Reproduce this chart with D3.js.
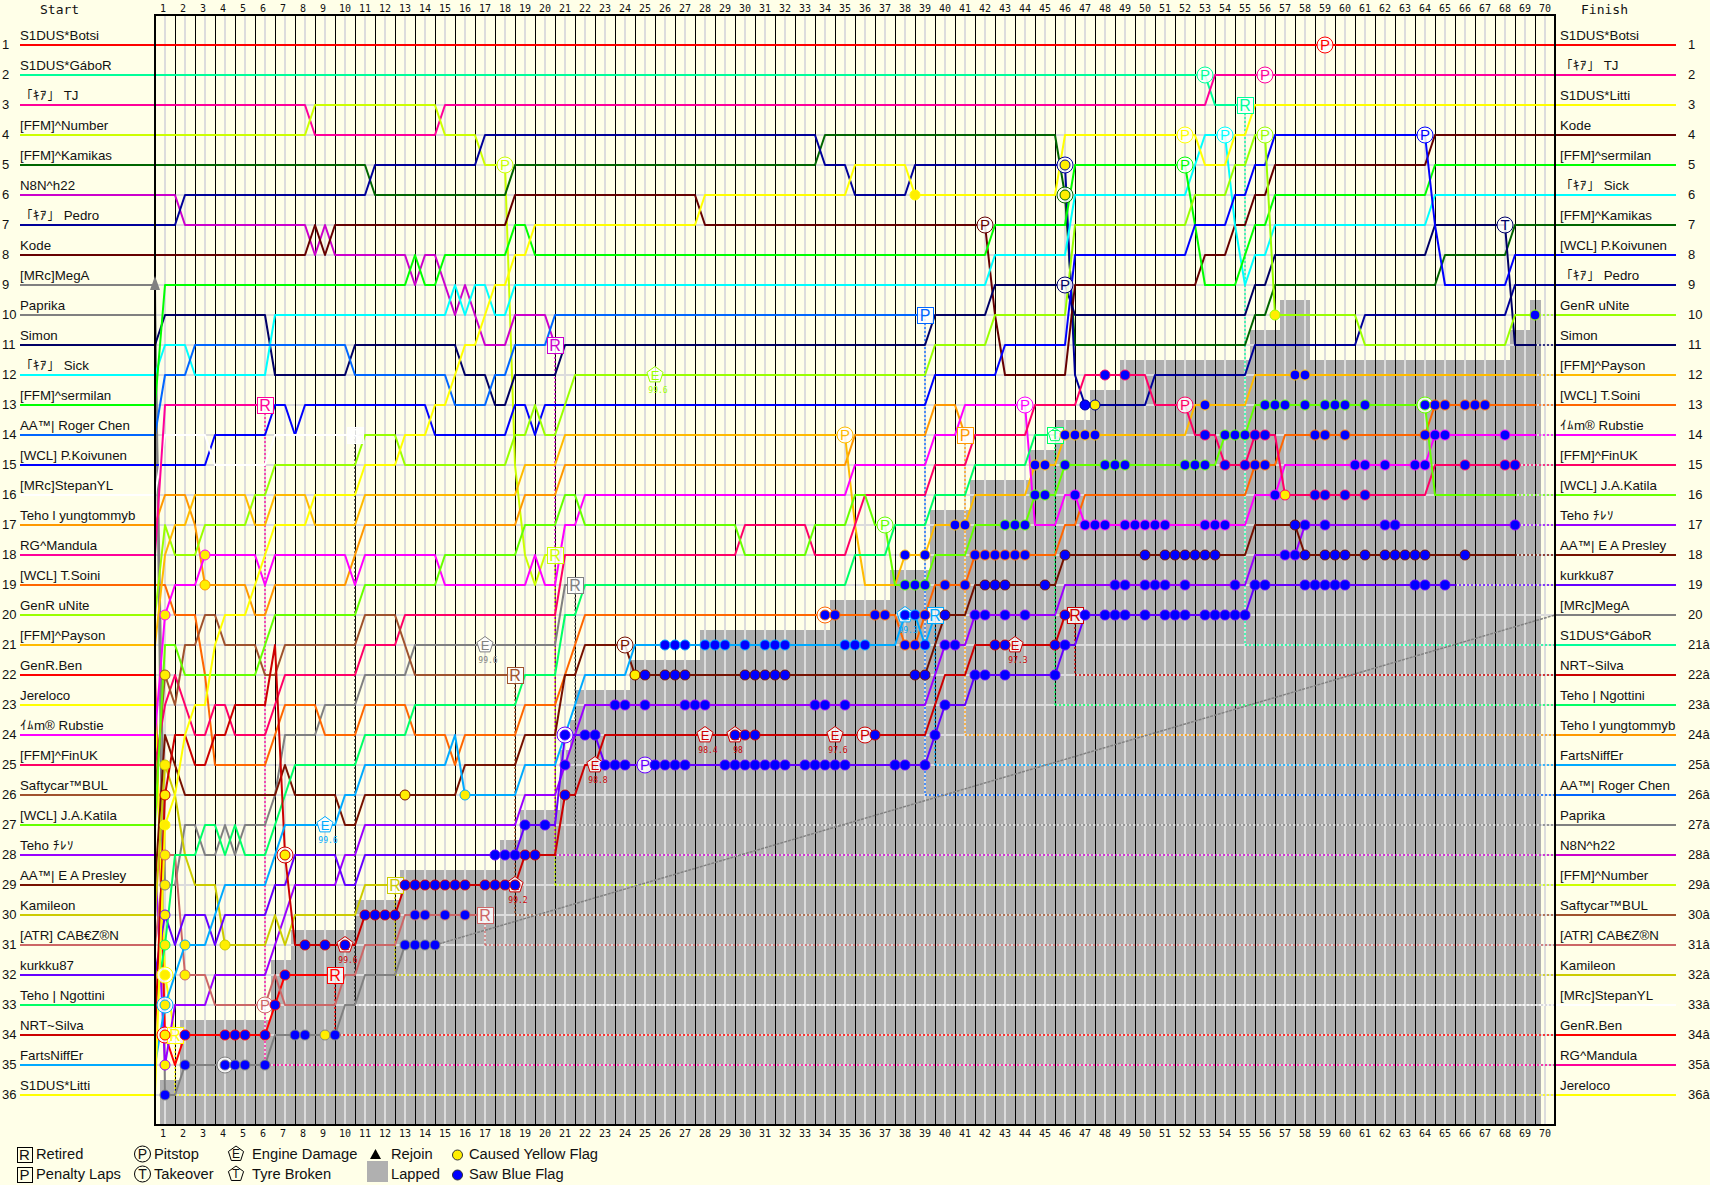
<!DOCTYPE html>
<html><head><meta charset="utf-8">
<script src="https://cdn.jsdelivr.net/npm/d3@7"></script>
<style>
html,body{margin:0;padding:0;background:#ffffe8;overflow:hidden}
svg{display:block}
text{font-family:"Liberation Sans",Arial,sans-serif;fill:#111}
</style></head><body><div id="c"></div>
<script>
// Drivers in starting-grid order
const names=["S1DUS*Botsi","S1DUS*GáboR","「ｷｱ」 TJ","[FFM]^Number","[FFM]^Kamikas","N8N^h22","「ｷｱ」 Pedro","Kode","[MRc]MegA","Paprika","Simon","「ｷｱ」 Sick","[FFM]^sermilan","AA™| Roger Chen","[WCL] P.Koivunen","[MRc]StepanYL","Teho l yungtommyb","RG^Mandula","[WCL] T.Soini","GenR uNite","[FFM]^Payson","GenR.Ben","Jereloco","ｲﾑm® Rubstie","[FFM]^FinUK","Saftycar™BUL","[WCL] J.A.Katila","Teho ﾁﾚｿ","AA™| E A Presley","Kamileon","[ATR] CAB€Z®N","kurkku87","Teho | Ngottini","NRT~Silva","FartsNiffEr","S1DUS*Litti"];
const colors=["#ff0000","#00ff99","#ff0099","#ccff00","#006600","#cc00cc","#000099","#660000","#808080","#808080","#000066","#00ffff","#00ff00","#0066ff","#0000ff","#ffffff","#ff9900","#ff0099","#ff6600","#99ff00","#ffbb00","#ff0000","#ffff00","#ff00ff","#ff0066","#a0522d","#66ff00","#9900ff","#771100","#cccc00","#cc6666","#6600ff","#00ff66","#cc0000","#00aaff","#ffff00"];
const finishRows=[1,21,2,29,7,28,9,4,20,27,11,6,5,26,8,33,24,35,13,10,12,34,36,14,15,30,16,17,18,32,31,19,23,22,25,3];
const endLaps=[70.5,55,70.5,20.5,70.5,20.5,70.5,70.5,14.5,21.5,69.5,70.5,70.5,39,70.5,10.5,41,6,69.5,69.5,69.5,9.5,1.5,69.5,68.5,18.5,68.5,68.5,68.5,12.5,17,65.5,45.5,46.5,39.5,70.5];
// Position changes: lap, new position, lap, new position ...
const mvBotsi=[];
const mvGabor=[53,3];
const mvTJ=[8,4,14.5,3,53,2];
const mvNumber=[8,3,14.5,4,16.5,5,18,15,18.5,18,19,19,19.5,18];
const mvKamikas=[11,6,18,5,33.5,4,45.5,6,46,11,55,10,56,9,64.5,8,68,7];
const mvH22=[1.5,7,8,8,8.5,7,9,8,13,9,13.5,8,14.5,9,15,10,15.5,9,16,10,16.5,11,18,10,20,11];
const mvPedro=[1.5,6,11,5,16.5,4,33.5,5,35,6,38,5,46,12,46.5,13,50,12,55,11,60.5,10,68,9];
const mvKode=[8,7,8.5,8,9,7,18,6,27.5,7,42,10,42.5,12,46,9,52.5,8,54,7,55,6,56,5,64,4];
const mvMega=[0.5,36,1.5,35,6,34,9.5,33,10.5,32,12.5,31];
const mvPaprika=[0.5,29,1.5,27,2.5,28,3.5,27,4,28,4.5,27,6,26,6.5,24,8.5,23,10.5,22,13,21,20.5,19];
const mvSimon=[0.5,10,6,12,10,11,15.5,12,17,13,18,12,20.5,11,39,10,42,9,46,10,55,9,56,8,64,7,68,11];
const mvSick=[0.5,11,2,12,6,10,15,9,15.5,10,16,9,17,10,18,9,42,8,46,6,52,5,52.5,4,54,7,54.5,9,55,8,56,7,64,6];
const mvSermilan=[0.5,9,13,8,13.5,9,14.5,8,18,7,19,8,42,7,46,5,52,7,52.5,9,54.5,8,55,7,56,6,64,5];
const mvRoger=[0.5,12,2,11,10,12,15,13,17,12,18,11,20,10];
const mvKoivunen=[0.5,15,3,14,6,13,7,14,7.5,13,14,14,18,13,19,14,19.5,13,39,12,42.5,11,46,8,52,7,54,6,55,5,56,4,64,7,64.5,9,68,8];
const mvStepan=[0.5,14,3,15,6,14];
const mvYung=[0.5,16,2,17,2.5,19,5,20,6,19,10,18,10.5,17,18.5,16,20.5,15,35,14,39,13,40.5,14];
const mvMandula=[0.5,13];
const mvSoini=[1,20,2.5,22,3,25,6,24,6.5,23,8.5,24,10.5,23,13,24,15,25,15.5,24,18.5,23,20.5,22,21,21,21.5,20,37.5,21,38.5,20,39,19,41,18,45.5,17,46.5,16,55,15,56.5,14,64,13];
const mvUnite=[0.5,17,1,18,2.5,17,5,16,6,15,10.5,14,12.5,15,18,14,19,13,19.5,14,20.5,13,21,12,39,11,42,10,46,7,52,6,54,5,55,4,56,10,60.5,11,68,10];
const mvPayson=[0.5,18,1,17,2,16,5,17,6,16,8,17,10.5,16,18.5,15,20.5,14,35,17,35.5,19,37.5,18,39,17,41,16,44,15,45.5,14,52,13,55,12];
const mvBen=[0.5,34,1,35,1.5,34,6,33,6.5,32];
const mvJereloco=[0.5,32,1,34];
const mvRubstie=[0.5,20,1,19,2.5,18,5.5,19,6,18,10,19,10.5,18,14.5,19,19,18,19.5,19,20.5,17,21.5,16,35,15,39,14,40.5,13,44,17,45.5,16,46.5,17,55,16,56.5,15,64,14];
const mvFinUK=[0.5,23,1,22,1.5,23,2,24,3,23,4,24,6,23,6.5,22,10.5,21,12.5,20,20.5,18,29.5,17,33,18,35,17,35.5,16,39,15,41,14,44,13,46.5,12,50,13,52,14,53.5,15,55,14,56.5,16,64,15];
const mvSaftycar=[0.5,22,1,23,1.5,21,2.5,20,3.5,21,5.5,22,6.5,21,10.5,20,12.5,21,13,22];
const mvKatila=[0.5,21,1.5,22,5.5,21,6,20,10.5,19,14.5,18,18.5,17,20.5,16,21.5,17,29.5,18,33,17,35,16,36,17,37,19,39,18,41,17,44,16,45.5,15,53.5,14,55,13,64,16];
const mvTeho=[0.5,35,1,33,3,32,6,31,6.5,30,7,29,9.5,28,10.5,27,18.5,26,20.5,25,21,24,21.5,23,39,22,39.5,21,41,20,45.5,19,55,18,57.5,17];
const mvPresley=[0.5,24,1,25,1.5,26,6.5,25,7,26,9.5,27,10.5,26,15.5,25,18.5,24,20.5,22,21.5,21,24,22,39,21,39.5,20,41,19,45.5,18,55,17,57.5,18];
const mvKamileon=[0.5,25,1,26,1.5,28,2,29,3.5,31,6,30,6.5,31,7,30,10.5,29];
const mvCab=[0.5,28,1.5,32,3,33,6,32,6.5,33,9.5,32,10.5,31,12.5,30];
const mvKurkku=[0.5,30,1,31,1.5,30,3,31,3.5,30,6,29,7,28,9.5,29,10.5,28,18.5,27,20.5,24,22.5,25,39,24,39.5,23,41,22,45.5,21,46.5,20,55,19];
const mvNgottini=[0.5,31,1,28,2.5,27,3.5,28,4,27,4.5,28,6,27,6.5,26,7,25,10.5,24,13,23,18.5,22,20.5,20,21.5,19,35,18,37,17,39,16,41,15,44,14];
const mvSilva=[0.5,26,1,24,2,25,3,24,4,23,6,21,6.5,28,7,31,10.5,30,12.5,29,18.5,28,20.5,26,21.5,25,22.5,24,39,23,39.5,22,41,21,45.5,20];
const mvFarts=[0.5,33,1,32,1.5,31,3,30,3.5,29,6,28,6.5,27,9.5,26,10.5,25,15,24,15.5,26,18.5,25,20.5,24,21,23,21.5,22,24,21,37.5,20,38.5,21,39,20];
const mvLitti=[0.5,27,1,26,1.5,24,2,23,3,21,3.5,20,5,19,5.5,18,6,17,8,16,10.5,15,12.5,14,14,13,15,12,15.5,11,16.5,10,17,9,18,8,19,7,27.5,6,35,5,38,6,45.5,4,52.5,5,54,4,55,3];
const allMoves=[mvBotsi,mvGabor,mvTJ,mvNumber,mvKamikas,mvH22,mvPedro,mvKode,mvMega,mvPaprika,mvSimon,mvSick,mvSermilan,mvRoger,mvKoivunen,mvStepan,mvYung,mvMandula,mvSoini,mvUnite,mvPayson,mvBen,mvJereloco,mvRubstie,mvFinUK,mvSaftycar,mvKatila,mvTeho,mvPresley,mvKamileon,mvCab,mvKurkku,mvNgottini,mvSilva,mvFarts,mvLitti];
// Saw Blue Flag laps: driver index, laps
const blueBen=[21,2,4,4.5,5,6,6.5,7];
const blueMega=[8,1,2,4,4.5,5,6,7.5,8,9.5,13,13.5,14,14.5];
const blueSilva=[33,8,9,10,11,11.5,12,12.5,13,13.5,14,14.5,15,15.5,16,17,17.5,18,18.5,19,19.5,21,29.5,30,30.5,36.5,42.5,43,45.5,46];
const blueCab=[30,13.5,14,15,16];
const blueKurkku=[31,17.5,18,18.5,19,20,21,22,22.5,23,23.5,24,25.5,26,26.5,27,29,29.5,30,30.5,31,31.5,32,33,33.5,34,34.5,35,37.5,38,39,39.5,40,41.5,42,43,45.5,46,47,48,48.5,49,50,51,51.5,52,53,53.5,54,54.5,55,55.5,56,58,58.5,59,59.5,60,63.5,64,65];
const blueTeho=[27,21,23.5,24,25,27,27.5,28,33.5,34,35,40,40.5,41.5,42,43,44,48.5,49,50,50.5,51,52,54.5,57,57.5,58,59,62,62.5,68.5];
const bluePresley=[28,25,26,26.5,27,30,30.5,31,31.5,32,38.5,39,40,42,42.5,43,45,46,50,51,51.5,52,52.5,53,53.5,57.5,58,59,59.5,60,61,62,62.5,63,63.5,64,66];
const blueFarts=[34,26,26.5,27,28,28.5,29,30,31,31.5,32,35,35.5,36,38,38.5,39];
const blueSoini=[18,34,34.5,36.5,37,38,38.5,39,40,41,41.5,42,42.5,43,43.5,44,55.5,56,58.5,59,60,64,64.5,65,66,66.5,67];
const bluePayson=[20,38,39,40.5,41,44.5,45,46,46.5,47,47.5,53,57.5,58];
const blueKatila=[26,38,38.5,39,43,43.5,44,44.5,45,46,48,48.5,49,52,52.5,53,54,54.5,55,56,56.5,57,58,59,59.5,60,61,64];
const blueRubstie=[23,46.5,47,47.5,48,49,49.5,50,50.5,51,53,53.5,54,56.5,60.5,61,62,63.5,64,64.5,65,68];
const blueFinUK=[24,48,49,53,54,55,55.5,56,58.5,59,60,61,66,68,68.5];
const bluePedro=[6,47];
const blueUnite=[19,69.5];
const allBlue=[blueBen,blueMega,blueSilva,blueCab,blueKurkku,blueTeho,bluePresley,blueFarts,blueSoini,bluePayson,blueKatila,blueRubstie,blueFinUK,bluePedro,blueUnite];
// Caused Yellow Flag: driver index, lap
const yellowFlags=[[23,1],[25,1],[29,1],[33,1],[35,1],[30,1],[9,1],[31,1],[32,1],[34,1],[27,1],[21,1],[22,1],[23,3],[16,3],[30,2],[34,2],[29,4],[33,7],[8,9],[28,13],[34,16],[28,24.5],[35,38.5],[6,46],[4,46],[6,47.5],[24,57],[19,56.5]];
// Pitstops / takeovers: driver index, lap, letter
const pitstops=[[0,59,"P"],[1,53,"P"],[2,56,"P"],[3,18,"P"],[7,42,"P"],[23,44,"P"],[24,52,"P"],[20,35,"P"],[26,37,"P"],[28,24,"P"],[33,36,"P"],[31,25,"P"],[31,21,""],[30,6,"P"],[33,7,""],[6,46,""],[4,46,""],[10,46,"P"],[18,34,""],[35,52,"P"],[12,52,"P"],[11,54,"P"],[19,56,"P"],[14,64,"P"],[26,64,""],[10,68,"T"],[21,1,""],[22,1,""],[34,1,""],[8,4,""]];
// Engine damage: driver index, lap, engine value label
const engineMarks=[[33,10,"99.6"],[33,18.5,"99.2"],[33,22.5,"98.8"],[33,28,"98.4"],[33,29.5,"98"],[33,34.5,"97.6"],[33,43.5,"97.3"],[9,17,"99.6"],[34,9,"99.6"],[19,25.5,"99.6"],[34,38,"99.3"]];
// End-of-race boxes: driver index, letter
const endBoxes=[[1,"R"],[3,"R"],[5,"R"],[9,"R"],[13,"P"],[15,"R"],[16,"P"],[17,"R"],[21,"R"],[22,"R"],[25,"R"],[29,"R"],[30,"R"],[32,"T"],[33,"R"],[34,"R"]];
// Lapped area stair: left edge (lap) and top (position); the last edge closes the area
const lappedEdges=[0.75,1.75,6.3,7.3,10.5,12.75,17.75,18.75,20.75,21.25,21.5,24.25,27.75,34.25,37.25,39.25,41.25,44.25,45.5,47.25,48.75,55.25,56.75,58.25,68.25,69.25,69.8];
const lappedTops=[35.5,33.5,31.5,30.5,29.5,28.5,27.5,26.5,24.5,23.5,22.5,21.5,20.5,19.5,18.5,16.5,15.5,14.5,13.5,12.5,11.5,10.5,9.5,11.5,10.5,9.5];
const lapLabels=d3.range(1,71);
const rowLabels=d3.range(1,37);

const W=1710,H=1185;
const x=d3.scaleLinear().domain([0.5,70.5]).range([155,1555]);
const y=d3.scaleLinear().domain([1,36]).range([45,1095]);
const svg=d3.select("#c").append("svg").attr("width",W).attr("height",H);
svg.append("rect").attr("width",W).attr("height",H).attr("fill","#ffffe8");
const frameBottom=1125,frameTop=15;

// lapped stairs
const lappedG=svg.append("g").attr("shape-rendering","crispEdges");
lappedTops.forEach((tp,i)=>{
  lappedG.append("rect").attr("x",x(lappedEdges[i])).attr("y",y(tp)).attr("width",x(lappedEdges[i+1])-x(lappedEdges[i])).attr("height",frameBottom-y(tp)).attr("fill","#b0b0b0");
});
// light grid
const gridG=svg.append("g").attr("shape-rendering","crispEdges").attr("stroke","#dcdcdc").attr("stroke-width",2);
lapLabels.forEach(l=>gridG.append("line").attr("x1",x(l)).attr("x2",x(l)).attr("y1",frameTop).attr("y2",frameBottom));
rowLabels.forEach(r=>gridG.append("line").attr("x1",155).attr("x2",1555).attr("y1",y(r)).attr("y2",y(r)));
// black lap separators
const sepG=svg.append("g").attr("shape-rendering","crispEdges").attr("stroke","#000").attr("stroke-width",1);
lapLabels.slice(0,-1).forEach(l=>sepG.append("line").attr("x1",x(l+.5)).attr("x2",x(l+.5)).attr("y1",frameTop).attr("y2",frameBottom));

function rowAt(i,t){
  let r=i+1; const m=allMoves[i];
  for(let k=0;k<m.length;k+=2){
    if(t>=m[k]+.5) r=m[k+1];
    else if(t>m[k]) r=r+(m[k+1]-r)*(t-m[k])/.5;
  }
  return r;
}
const lineGen=d3.line().x(d=>x(d[0])).y(d=>y(d[1]));
function pathOf(i){
  const m=allMoves[i]; let r=i+1; const pts=[[0.5,r]];
  for(let k=0;k<m.length;k+=2){pts.push([m[k],r]);r=m[k+1];pts.push([m[k]+.5,r]);}
  pts.push([endLaps[i],r]);
  return pts;
}
// dotted retirement trails
const trailG=svg.append("g").attr("fill","none").attr("stroke-width",1.3).attr("stroke-dasharray","2,2");
names.forEach((n,i)=>{
  const e=endLaps[i]; if(e>=70.5) return;
  const r=rowAt(i,e), f=finishRows[i];
  if(i===8) return;
  const c=i===15?"#222":colors[i];
  if(Math.abs(r-f)>.01) trailG.append("line").attr("x1",x(e)).attr("x2",x(e)).attr("y1",y(r)).attr("y2",y(f)).attr("stroke",c);
  trailG.append("line").attr("x1",x(e)).attr("x2",1555).attr("y1",y(f)).attr("y2",y(f)).attr("stroke",i===15?"#fff":c);
});
// race lines
const linesG=svg.append("g").attr("fill","none").attr("stroke-width",2).attr("stroke-linejoin","round");
names.forEach((n,i)=>linesG.append("path").attr("d",lineGen(pathOf(i))).attr("stroke",colors[i]));
// MegA's dashed run to the flag
svg.append("line").attr("x1",x(endLaps[8])).attr("y1",y(rowAt(8,endLaps[8]))).attr("x2",1555).attr("y2",y(finishRows[8])).attr("stroke","#808080").attr("stroke-width",1.5).attr("stroke-dasharray","3,1");

// side labels
const sideG=svg.append("g");
names.forEach((n,i)=>{
  sideG.append("line").attr("x1",20).attr("x2",155).attr("y1",y(i+1)).attr("y2",y(i+1)).attr("stroke",colors[i]).attr("stroke-width",2).attr("shape-rendering","crispEdges");
  sideG.append("text").attr("x",20).attr("y",y(i+1)-5).attr("font-size",13.3).text(n);
  const f=finishRows[i];
  sideG.append("line").attr("x1",1555).attr("x2",1676).attr("y1",y(f)).attr("y2",y(f)).attr("stroke",colors[i]).attr("stroke-width",2).attr("shape-rendering","crispEdges");
  sideG.append("text").attr("x",1560).attr("y",y(f)-5).attr("font-size",13.3).text(n);
});
// frame
svg.append("rect").attr("x",155).attr("y",frameTop).attr("width",1400).attr("height",frameBottom-frameTop).attr("fill","none").attr("stroke","#000").attr("stroke-width",2).attr("shape-rendering","crispEdges");

// axes
const monoFont='"DejaVu Sans Mono",monospace';
function styleAxis(g){g.select(".domain").remove();g.selectAll("line").remove();g.selectAll("text").attr("font-size",10).attr("dx",d=>d<10?-2:0).style("font-family",monoFont).attr("fill","#111");}
svg.append("g").attr("transform","translate(-0.5,12)").call(d3.axisTop(x).tickValues(lapLabels).tickSize(0).tickPadding(0)).call(styleAxis);
svg.append("g").attr("transform","translate(-0.5,1130)").call(d3.axisBottom(x).tickValues(lapLabels).tickSize(0).tickPadding(0)).call(styleAxis);
const leftAxis=svg.append("g").attr("transform","translate(2,-1)").call(d3.axisRight(y).tickValues(rowLabels).tickFormat(d3.format("d")).tickSize(0).tickPadding(0));
leftAxis.select(".domain").remove();
leftAxis.selectAll("text").attr("font-size",13).attr("fill","#111");
const rightAxis=svg.append("g").attr("transform","translate(1688,-1)").call(d3.axisRight(y).tickValues(rowLabels).tickFormat(d=>d>=21?d+"â":d).tickSize(0).tickPadding(0));
rightAxis.select(".domain").remove();
rightAxis.selectAll("text").attr("font-size",13).attr("fill","#111");
svg.append("text").attr("x",40).attr("y",14).attr("font-size",13).style("font-family",monoFont).text("Start");
svg.append("text").attr("x",1581).attr("y",14).attr("font-size",13).style("font-family",monoFont).text("Finish");

// markers
const mk=svg.append("g");
const pent=(cx,cy,r)=>d3.range(5).map(k=>{const a=-Math.PI/2+k*2*Math.PI/5;return [cx+r*Math.cos(a),cy+r*Math.sin(a)].join(",");}).join(" ");
function letter(g,cx,cy,s,c,fs){g.append("text").attr("x",cx).attr("y",cy+fs*.36).attr("text-anchor","middle").attr("font-size",fs).style("fill",c).text(s);}
engineMarks.forEach(([i,t,v])=>{
  const cx=x(t),cy=y(rowAt(i,t));
  mk.append("polygon").attr("points",pent(cx,cy,8.5)).attr("fill","#fff").attr("fill-opacity",.85).attr("stroke",colors[i]);
  letter(mk,cx,cy,"E",colors[i],13);
  mk.append("text").attr("x",cx+3).attr("y",cy+18).attr("text-anchor","middle").attr("font-size",8).style("font-family",monoFont).style("fill",colors[i]).text(v);
});
pitstops.forEach(([i,t,s])=>{
  const cx=x(t),cy=y(rowAt(i,t));
  mk.append("circle").attr("cx",cx).attr("cy",cy).attr("r",8).attr("fill","#fff").attr("fill-opacity",.85).attr("stroke",colors[i]);
  if(s) letter(mk,cx,cy,s,colors[i],15);
});
endBoxes.forEach(([i,s])=>{
  const t=endLaps[i],cx=x(t),cy=y(rowAt(i,t));
  mk.append("rect").attr("x",cx-8).attr("y",cy-8).attr("width",16).attr("height",16).attr("fill","#fff").attr("fill-opacity",.85).attr("stroke",colors[i]).attr("shape-rendering","crispEdges");
  if(s==="T") mk.append("polygon").attr("points",pent(cx,cy,7)).attr("fill","none").attr("stroke",colors[i]);
  letter(mk,cx,cy,s,colors[i],s==="T"?12:16);
});
yellowFlags.forEach(([i,t])=>{
  mk.append("circle").attr("cx",x(t)).attr("cy",y(rowAt(i,t))).attr("r",5).attr("fill","#ffee00").attr("stroke",colors[i]);
});
allBlue.forEach(a=>{
  const i=a[0];
  a.slice(1).forEach(t=>mk.append("circle").attr("cx",x(t)).attr("cy",y(rowAt(i,t))).attr("r",5).attr("fill","#0000ff").attr("stroke",colors[i]));
});
mk.append("polygon").attr("points",[[155,y(9)-9],[150,y(9)+5],[160,y(9)+5]].join(" ")).attr("fill","#808080");

// legend
const lg=svg.append("g");
const ltext=(px,py,s)=>lg.append("text").attr("x",px).attr("y",py).attr("font-size",14.7).text(s);
const yL1=1159,yL2=1179;
[[yL1,"R"],[yL2,"P"]].forEach(([py,s])=>{
  lg.append("rect").attr("x",17).attr("y",py-12).attr("width",15).attr("height",15).attr("fill","none").attr("stroke","#000").attr("shape-rendering","crispEdges");
  letter(lg,24.5,py-4.5,s,"#111",15);
});
ltext(36,yL1,"Retired");ltext(36,yL2,"Penalty Laps");
[[yL1,"P"],[yL2,"T"]].forEach(([py,s])=>{
  lg.append("circle").attr("cx",142.5).attr("cy",py-5).attr("r",8).attr("fill","none").attr("stroke","#000");
  letter(lg,142.5,py-5,s,"#111",14);
});
ltext(154,yL1,"Pitstop");ltext(154,yL2,"Takeover");
[[yL1,"E"],[yL2,"T"]].forEach(([py,s])=>{
  lg.append("polygon").attr("points",pent(236,py-5,8)).attr("fill","none").attr("stroke","#000");
  letter(lg,236,py-5,s,"#111",12);
});
ltext(252,yL1,"Engine Damage");ltext(252,yL2,"Tyre Broken");
lg.append("polygon").attr("points",[[375.5,yL1-10],[370,yL1],[381,yL1]].join(" ")).attr("fill","#000");
lg.append("rect").attr("x",367).attr("y",1161).attr("width",21).attr("height",21).attr("fill","#b0b0b0");
ltext(391,yL1,"Rejoin");ltext(391,yL2,"Lapped");
lg.append("circle").attr("cx",457.5).attr("cy",yL1-4).attr("r",5).attr("fill","#ffee00").attr("stroke","#333");
lg.append("circle").attr("cx",457.5).attr("cy",yL2-4).attr("r",5).attr("fill","#0000ff").attr("stroke","#333");
ltext(469,yL1,"Caused Yellow Flag");ltext(469,yL2,"Saw Blue Flag");
</script></body></html>
